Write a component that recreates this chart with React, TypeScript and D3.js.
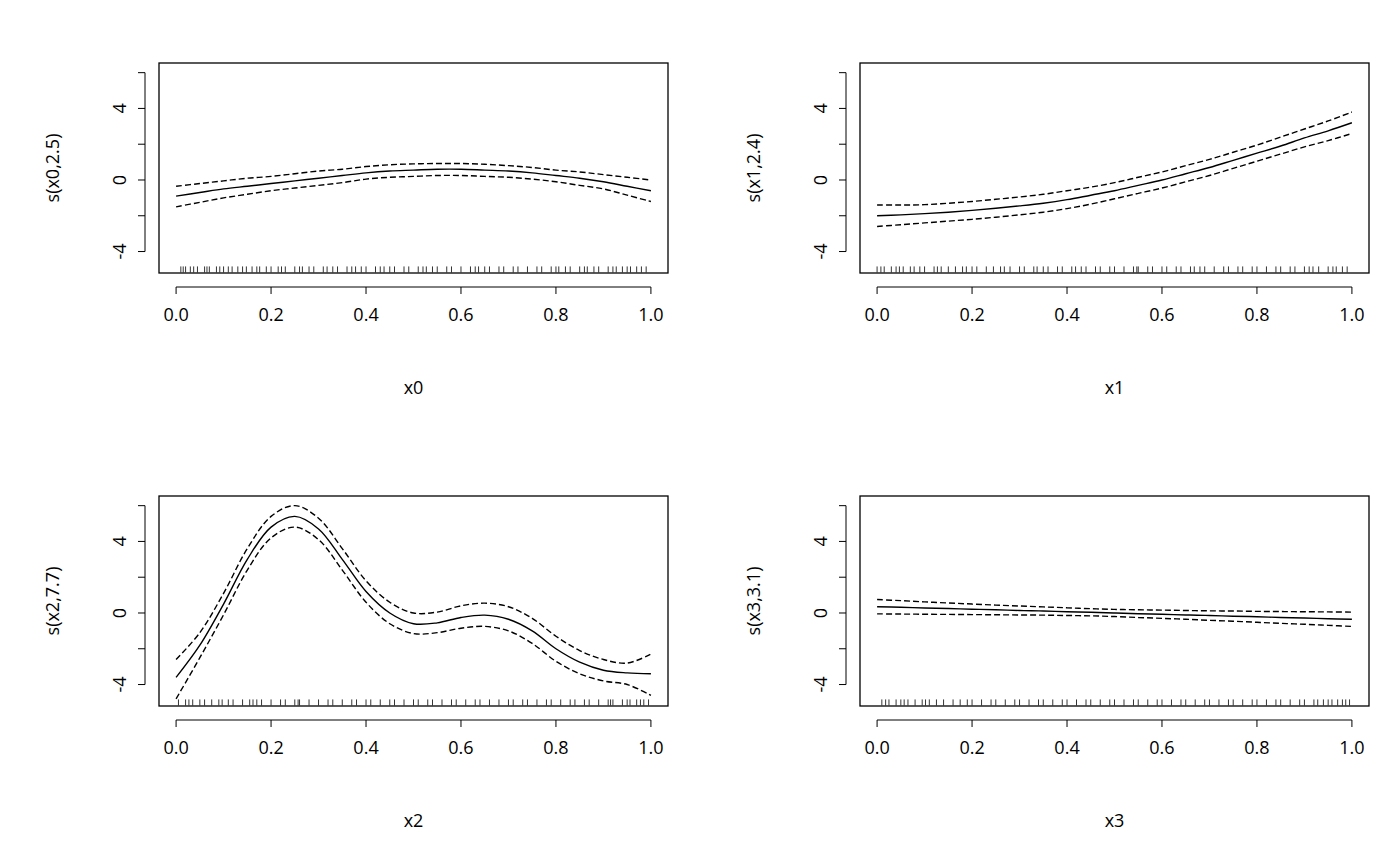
import * as d3 from "d3";

const gridX = [0, 0.05, 0.1, 0.15, 0.2, 0.25, 0.3, 0.35, 0.4, 0.45, 0.5, 0.55, 0.6, 0.65, 0.7, 0.75, 0.8, 0.85, 0.9, 0.95, 1.0];

// panel x0
const fit0 = [-0.9, -0.7, -0.5, -0.35, -0.2, -0.05, 0.1, 0.25, 0.4, 0.5, 0.55, 0.6, 0.6, 0.55, 0.5, 0.4, 0.25, 0.1, -0.1, -0.35, -0.6];
const up0 = [-0.35, -0.2, -0.05, 0.1, 0.2, 0.35, 0.5, 0.6, 0.75, 0.85, 0.9, 0.92, 0.92, 0.88, 0.8, 0.7, 0.55, 0.45, 0.3, 0.15, 0.0];
const lo0 = [-1.5, -1.25, -1.0, -0.8, -0.6, -0.45, -0.3, -0.15, 0.05, 0.15, 0.2, 0.25, 0.25, 0.2, 0.15, 0.05, -0.1, -0.3, -0.5, -0.85, -1.2];

// panel x1
const fit1 = [-2.0, -1.95, -1.88, -1.8, -1.7, -1.58, -1.45, -1.3, -1.1, -0.85, -0.6, -0.3, 0.0, 0.35, 0.7, 1.1, 1.5, 1.9, 2.35, 2.75, 3.2];
const up1 = [-1.4, -1.4, -1.38, -1.3, -1.2, -1.08, -0.95, -0.8, -0.6, -0.4, -0.15, 0.15, 0.45, 0.8, 1.15, 1.55, 1.95, 2.4, 2.85, 3.3, 3.8];
const lo1 = [-2.6, -2.5, -2.4, -2.3, -2.2, -2.08, -1.95, -1.8, -1.6, -1.35, -1.05, -0.75, -0.45, -0.1, 0.25, 0.65, 1.05, 1.45, 1.85, 2.2, 2.6];

// panel x2
const fit2 = [-3.6, -1.8, 0.5, 3.0, 4.8, 5.4, 4.7, 3.0, 1.2, 0.0, -0.6, -0.55, -0.25, -0.12, -0.35, -1.0, -2.0, -2.75, -3.2, -3.35, -3.4];
const up2 = [-2.6, -1.1, 1.1, 3.6, 5.4, 6.0, 5.3, 3.6, 1.8, 0.6, 0.0, 0.05, 0.4, 0.55, 0.35, -0.3, -1.3, -2.1, -2.6, -2.8, -2.3];
const lo2 = [-4.8, -2.5, -0.1, 2.4, 4.2, 4.8, 4.1, 2.4, 0.6, -0.6, -1.15, -1.1, -0.85, -0.75, -1.0, -1.7, -2.7, -3.4, -3.8, -4.0, -4.6];

// panel x3
const fit3 = [0.35, 0.32, 0.28, 0.25, 0.21, 0.18, 0.14, 0.11, 0.07, 0.04, 0.0, -0.04, -0.07, -0.11, -0.14, -0.18, -0.21, -0.25, -0.28, -0.32, -0.35];
const up3 = [0.75, 0.69, 0.62, 0.56, 0.5, 0.44, 0.39, 0.34, 0.29, 0.24, 0.2, 0.18, 0.16, 0.14, 0.12, 0.11, 0.09, 0.08, 0.07, 0.06, 0.05];
const lo3 = [-0.05, -0.06, -0.07, -0.08, -0.09, -0.1, -0.11, -0.12, -0.14, -0.16, -0.2, -0.25, -0.3, -0.35, -0.41, -0.46, -0.52, -0.58, -0.63, -0.69, -0.75];

const rug0 = [0.01, 0.015, 0.02, 0.03, 0.037, 0.045, 0.06, 0.065, 0.07, 0.085, 0.092, 0.1, 0.11, 0.118, 0.13, 0.14, 0.148, 0.16, 0.17, 0.176, 0.19, 0.2, 0.215, 0.222, 0.23, 0.25, 0.26, 0.266, 0.28, 0.29, 0.31, 0.318, 0.33, 0.34, 0.36, 0.37, 0.378, 0.39, 0.4, 0.42, 0.43, 0.438, 0.45, 0.46, 0.48, 0.49, 0.51, 0.52, 0.527, 0.54, 0.55, 0.57, 0.58, 0.6, 0.62, 0.63, 0.637, 0.65, 0.66, 0.68, 0.69, 0.71, 0.72, 0.74, 0.76, 0.77, 0.79, 0.8, 0.806, 0.82, 0.83, 0.85, 0.86, 0.866, 0.88, 0.89, 0.91, 0.92, 0.927, 0.94, 0.95, 0.957, 0.97, 0.98, 0.99];
const rug1 = [0.0, 0.008, 0.015, 0.03, 0.04, 0.047, 0.055, 0.07, 0.078, 0.09, 0.1, 0.12, 0.127, 0.135, 0.15, 0.165, 0.18, 0.188, 0.2, 0.21, 0.23, 0.245, 0.26, 0.268, 0.28, 0.3, 0.31, 0.33, 0.337, 0.35, 0.36, 0.38, 0.39, 0.41, 0.418, 0.43, 0.44, 0.46, 0.47, 0.49, 0.5, 0.52, 0.54, 0.547, 0.55, 0.57, 0.58, 0.6, 0.61, 0.63, 0.64, 0.66, 0.668, 0.68, 0.69, 0.71, 0.73, 0.74, 0.76, 0.77, 0.79, 0.8, 0.82, 0.84, 0.85, 0.87, 0.88, 0.9, 0.91, 0.918, 0.93, 0.95, 0.96, 0.967, 0.98, 0.99];
const rug2 = [0.005, 0.02, 0.027, 0.035, 0.05, 0.06, 0.075, 0.09, 0.097, 0.11, 0.12, 0.14, 0.155, 0.162, 0.17, 0.18, 0.2, 0.22, 0.23, 0.25, 0.257, 0.26, 0.28, 0.3, 0.32, 0.33, 0.35, 0.37, 0.38, 0.4, 0.41, 0.43, 0.45, 0.46, 0.48, 0.5, 0.51, 0.53, 0.54, 0.56, 0.58, 0.59, 0.61, 0.63, 0.64, 0.66, 0.68, 0.7, 0.71, 0.73, 0.74, 0.76, 0.78, 0.79, 0.81, 0.83, 0.84, 0.86, 0.87, 0.89, 0.91, 0.915, 0.92, 0.94, 0.95, 0.956, 0.97, 0.978, 0.985, 0.995];
const rug3 = [0.01, 0.018, 0.025, 0.04, 0.05, 0.057, 0.065, 0.08, 0.095, 0.102, 0.11, 0.125, 0.14, 0.16, 0.175, 0.19, 0.2, 0.22, 0.24, 0.25, 0.27, 0.29, 0.3, 0.32, 0.34, 0.35, 0.37, 0.39, 0.4, 0.42, 0.44, 0.45, 0.47, 0.49, 0.5, 0.52, 0.54, 0.55, 0.57, 0.59, 0.6, 0.62, 0.64, 0.65, 0.67, 0.69, 0.7, 0.72, 0.74, 0.75, 0.77, 0.79, 0.8, 0.82, 0.84, 0.85, 0.87, 0.89, 0.9, 0.92, 0.928, 0.94, 0.95, 0.958, 0.97, 0.98, 0.987, 0.995];

const xTicks = [0, 0.2, 0.4, 0.6, 0.8, 1.0];
const yTicks = [-4, -2, 0, 2, 4, 6];
const yLabels = [-4, 0, 4];

const font = "'Open Sans', 'Noto Sans', sans-serif";

function Panel({ left, top, xlab, ylab, fit, up, lo, rug }: {
  left: number; top: number; xlab: string; ylab: string;
  fit: number[]; up: number[]; lo: number[]; rug: number[];
}) {
  const w = 509, h = 210;
  const x = d3.scaleLinear().domain([-0.036, 1.036]).range([left, left + w]);
  const y = d3.scaleLinear().domain([-5.2, 6.54]).range([top + h, top]);
  const line = d3.line<number>().x((_, i) => x(gridX[i])).y((d) => y(d)).curve(d3.curveCatmullRom);
  const axY = top + h + 14;
  const axX = left - 14;
  return (
    <g fontFamily={font} fontSize={18} fill="#000">
      <rect x={left} y={top} width={w} height={h} fill="none" stroke="#000" strokeWidth={1.3} />
      {rug.map((r, i) => (
        <line key={i} x1={x(r)} x2={x(r)} y1={y(-5) + 3} y2={y(-5) - 3} stroke="#000" strokeWidth={0.8} />
      ))}
      <path d={line(fit)!} fill="none" stroke="#000" strokeWidth={1.4} />
      <path d={line(up)!} fill="none" stroke="#000" strokeWidth={1.4} strokeDasharray="6,3" />
      <path d={line(lo)!} fill="none" stroke="#000" strokeWidth={1.4} strokeDasharray="6,3" />
      <line x1={x(0)} x2={x(1)} y1={axY} y2={axY} stroke="#000" />
      {xTicks.map((t) => (
        <g key={t}>
          <line x1={x(t)} x2={x(t)} y1={axY} y2={axY + 7} stroke="#000" />
          <text x={x(t)} y={axY + 34} textAnchor="middle">{t.toFixed(1)}</text>
        </g>
      ))}
      <line x1={axX} x2={axX} y1={y(-4)} y2={y(6)} stroke="#000" />
      {yTicks.map((t) => (
        <line key={t} x1={axX} x2={axX - 7} y1={y(t)} y2={y(t)} stroke="#000" />
      ))}
      {yLabels.map((t) => (
        <text key={t} transform={`translate(${axX - 19},${y(t)}) rotate(-90)`} textAnchor="middle">{t}</text>
      ))}
      <text x={left + w / 2} y={top + h + 121} textAnchor="middle">{xlab}</text>
      <text transform={`translate(${left - 100},${top + h / 2}) rotate(-90)`} textAnchor="middle">{ylab}</text>
    </g>
  );
}

export default function App() {
  return (
    <svg width={1400} height={866} style={{ position: "absolute", left: 0, top: 0, background: "#fff" }}>
      <Panel left={159} top={63} xlab="x0" ylab="s(x0,2.5)" fit={fit0} up={up0} lo={lo0} rug={rug0} />
      <Panel left={860} top={63} xlab="x1" ylab="s(x1,2.4)" fit={fit1} up={up1} lo={lo1} rug={rug1} />
      <Panel left={159} top={496} xlab="x2" ylab="s(x2,7.7)" fit={fit2} up={up2} lo={lo2} rug={rug2} />
      <Panel left={860} top={496} xlab="x3" ylab="s(x3,3.1)" fit={fit3} up={up3} lo={lo3} rug={rug3} />
    </svg>
  );
}
